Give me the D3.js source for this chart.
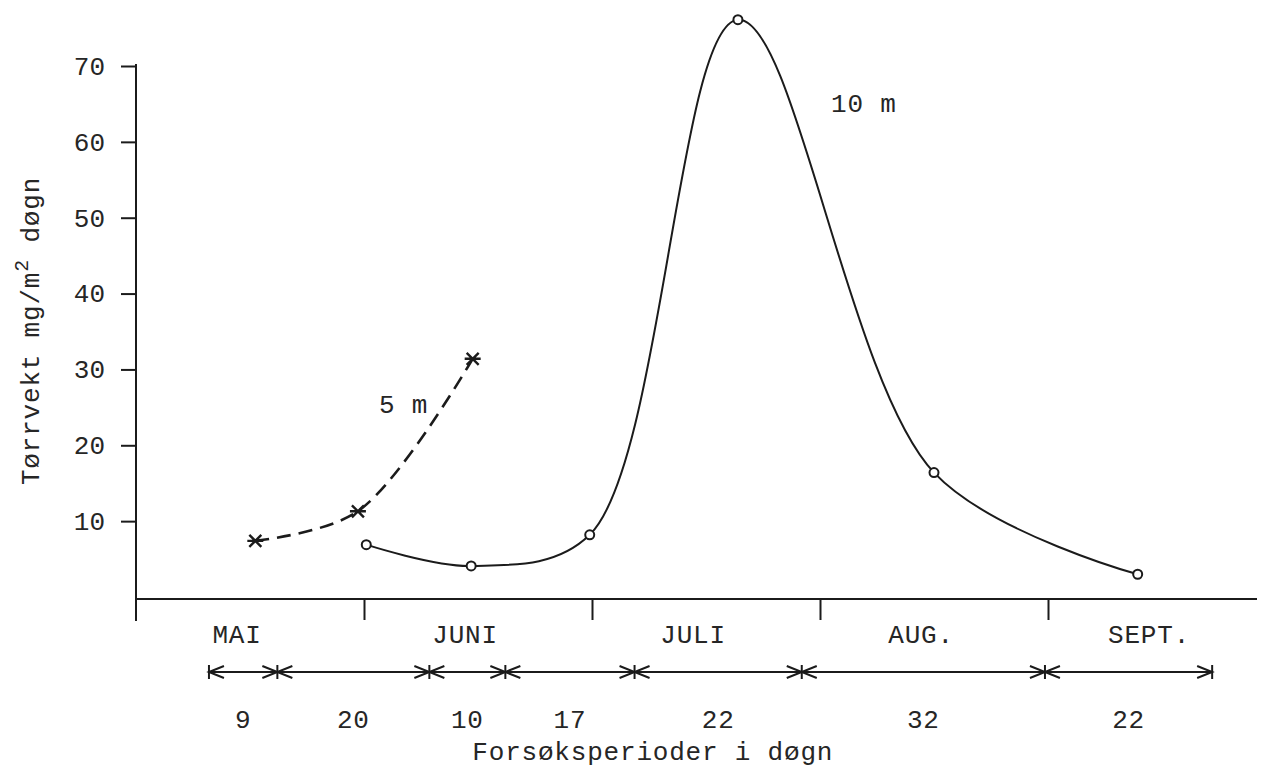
<!DOCTYPE html>
<html>
<head>
<meta charset="utf-8">
<script src="https://cdn.jsdelivr.net/npm/d3@7"></script>
<style>
  body { margin: 0; background: #fff; }
  text { font-family: "Liberation Mono", "DejaVu Sans Mono", monospace; fill: #262626; letter-spacing: 0.8px; }
  .tick text { letter-spacing: 0; }
</style>
</head>
<body>
<svg id="chart" width="1269" height="770"></svg>
<script>
// Tørrvekt (mg/m² døgn) i sedimentfeller på 5 m og 10 m, mai–september
const months = ["MAI", "JUNI", "JULI", "AUG.", "SEPT."];
const yTicks = [10, 20, 30, 40, 50, 60, 70];

// Forsøksperioder: first exposure starts this many days after 1 May
const periodStart = 9.6;
const periodDays = [9, 20, 10, 17, 22, 32, 22];

// 10 m: day of season (30-day months) and dry weight
const day10m = [30.3, 44.1, 59.7, 79.2, 105.0, 131.8];
const val10m = [6.9, 4.1, 8.2, 76.1, 16.4, 3.0];

// 5 m
const day5m = [15.7, 29.2, 44.3];
const val5m = [7.4, 11.3, 31.4];

const ink = "#1b1b1b";
const fontSize = 26;
const svg = d3.select("#chart");

const x = d3.scaleLinear().domain([0, 150]).range([136, 1276]);
const y = d3.scaleLinear().domain([0, 70]).range([597, 66]);

// ---- y axis ----
const yAxis = svg.append("g")
  .attr("transform", `translate(${x(0)},0)`)
  .call(d3.axisLeft(y).tickValues(yTicks).tickSize(15).tickPadding(16));
yAxis.select(".domain").remove();
yAxis.selectAll(".tick line").attr("stroke", ink).attr("stroke-width", 2);
yAxis.selectAll(".tick text")
  .attr("font-size", fontSize)
  .attr("font-family", "Liberation Mono, monospace")
  .attr("fill", "#262626");
svg.append("line")
  .attr("x1", x(0)).attr("x2", x(0))
  .attr("y1", y(70) - 2).attr("y2", y(0) + 24)
  .attr("stroke", ink).attr("stroke-width", 2);

// y title with superscript
const yTitle = svg.append("text")
  .attr("transform", "translate(39,331) rotate(-90)")
  .attr("text-anchor", "middle")
  .attr("font-size", fontSize);
yTitle.append("tspan").text("Tørrvekt mg/m");
yTitle.append("tspan").attr("dy", -11).attr("font-size", 20).text("2");
yTitle.append("tspan").attr("dy", 11).text(" døgn");

// ---- month axis ----
const axisY = y(0) + 2;
svg.append("line")
  .attr("x1", x(0)).attr("x2", x(147.5))
  .attr("y1", axisY).attr("y2", axisY)
  .attr("stroke", ink).attr("stroke-width", 2);

const monthAxis = svg.append("g")
  .attr("transform", `translate(0,${axisY})`)
  .call(d3.axisBottom(x).tickValues([30, 60, 90, 120]).tickSize(21).tickFormat(""));
monthAxis.select(".domain").remove();
monthAxis.selectAll(".tick line").attr("stroke", ink).attr("stroke-width", 2);

svg.append("g").selectAll("text")
  .data(months)
  .join("text")
  .attr("x", (d, i) => x(i * 30 + 13.3))
  .attr("y", 643)
  .attr("text-anchor", "middle")
  .attr("font-size", fontSize)
  .text(d => d);

// ---- trap periods (double arrows) ----
const bounds = [periodStart];
periodDays.forEach(d => bounds.push(bounds[bounds.length - 1] + d));
const arrowY = 672;
const periodsG = svg.append("g").attr("stroke", ink).attr("fill", "none").attr("stroke-width", 2);
periodsG.append("line")
  .attr("x1", x(bounds[0])).attr("x2", x(bounds[bounds.length - 1]))
  .attr("y1", arrowY).attr("y2", arrowY);
bounds.forEach((b, i) => {
  const bx = x(b);
  periodsG.append("line").attr("x1", bx).attr("x2", bx)
    .attr("y1", arrowY - 7).attr("y2", arrowY + 7);
  if (i > 0) { // head of the segment to the left, pointing right
    periodsG.append("path")
      .attr("d", `M${bx - 15},${arrowY - 6}L${bx},${arrowY}L${bx - 15},${arrowY + 6}`);
  }
  if (i < bounds.length - 1) { // head of the segment to the right, pointing left
    periodsG.append("path")
      .attr("d", `M${bx + 15},${arrowY - 6}L${bx},${arrowY}L${bx + 15},${arrowY + 6}`);
  }
});
svg.append("g").selectAll("text")
  .data(periodDays)
  .join("text")
  .attr("x", (d, i) => x(bounds[i] + d / 2))
  .attr("y", 728)
  .attr("text-anchor", "middle")
  .attr("font-size", fontSize)
  .text(d => d);

svg.append("text")
  .attr("x", x(68)).attr("y", 760)
  .attr("text-anchor", "middle")
  .attr("font-size", fontSize)
  .text("Forsøksperioder i døgn");

// ---- series ----
const line = d3.line()
  .x(d => x(d[0]))
  .y(d => y(d[1]))
  .curve(d3.curveCatmullRom.alpha(0.5));

const pts10 = day10m.map((d, i) => [d, val10m[i]]);
const pts5 = day5m.map((d, i) => [d, val5m[i]]);

svg.append("path")
  .datum(pts10)
  .attr("d", line)
  .attr("fill", "none").attr("stroke", ink).attr("stroke-width", 2);

svg.append("path")
  .datum(pts5)
  .attr("d", line)
  .attr("fill", "none").attr("stroke", ink).attr("stroke-width", 2.6)
  .attr("stroke-dasharray", "14,8");

svg.append("g").selectAll("circle")
  .data(pts10)
  .join("circle")
  .attr("cx", d => x(d[0])).attr("cy", d => y(d[1]))
  .attr("r", 4.5)
  .attr("fill", "#fff").attr("stroke", ink).attr("stroke-width", 2);

const star = svg.append("g").attr("stroke", ink).attr("stroke-width", 2.4).attr("fill", "none");
pts5.forEach(d => {
  const cx = x(d[0]), cy = y(d[1]), r = 6;
  star.append("path").attr("d",
    `M${cx - r},${cy - r}L${cx + r},${cy + r}M${cx - r},${cy + r}L${cx + r},${cy - r}M${cx - 8},${cy}L${cx + 8},${cy}`);
});

// series labels
svg.append("text").attr("x", 831).attr("y", 112).attr("font-size", fontSize).text("10 m");
svg.append("text").attr("x", 379).attr("y", 413).attr("font-size", fontSize).text("5 m");
</script>
</body>
</html>
